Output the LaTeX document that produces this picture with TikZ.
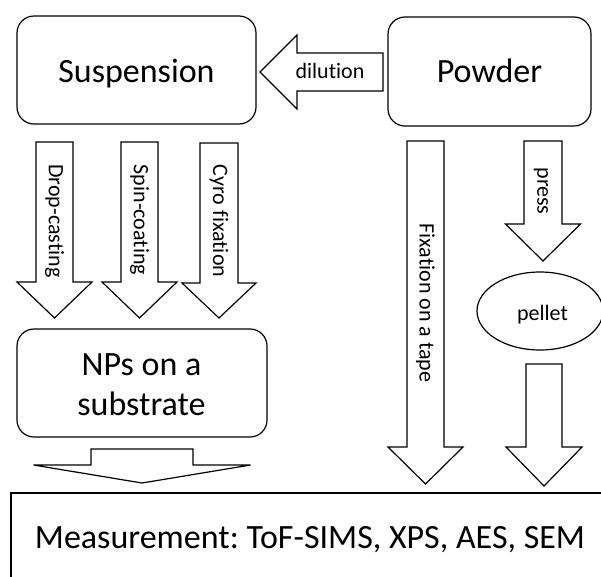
\documentclass[tikz,border=0pt]{standalone}
\usepackage{fontspec}
\setmainfont{Carlito}[Ligatures={NoCommon,NoRare,NoContextual}]
\usetikzlibrary{shapes.geometric}
\frenchspacing
\begin{document}
\begin{tikzpicture}[x=1pt,y=-1pt,
  blk/.style={draw=black,line width=1.2pt,fill=white,line join=miter},
  rbox/.style={draw=black,line width=1.2pt,rounded corners=17pt,inner sep=0pt,align=center},
  big/.style={font=\fontsize{34}{40}\selectfont},
  lbl/.style={font=\fontsize{22}{26}\selectfont,inner sep=0pt},
  vlbl/.style={lbl,rotate=-90}]
\useasboundingbox (0,0) rectangle (601,576);
\newcommand{\blkdown}[6]{%
  \draw[blk] ({#1-#2},#4) -- ({#1+#2},#4) -- ({#1+#2},#5) -- ({#1+#3},#5) -- (#1,#6) -- ({#1-#3},#5) -- ({#1-#2},#5) -- cycle;}
% boxes
\node[rbox,minimum width=239pt,minimum height=108pt] (susp) at (136.5,70) {};
\node[big,anchor=base] (susptext) at (136.5,82) {Suspension};
\node[rbox,minimum width=203pt,minimum height=109pt] (powd) at (489.5,71.5) {};
\node[big,anchor=base] (powdtext) at (489.5,82) {Powder};
\node[rbox,minimum width=250pt,minimum height=108pt] (nps) at (142,383) {};
\node[big,anchor=base] (npstext1) at (141.5,375) {NPs on a};
\node[big,anchor=base] (npstext2) at (141.5,415) {substrate};
\draw[line width=1.2pt] (11,620) -- (11,493) -- (640,493);
\node[big,anchor=base] (meas) at (310,548) {Measurement: ToF-SIMS, XPS, AES, SEM};
\node[draw=black,line width=1.2pt,ellipse,minimum width=126pt,minimum height=78pt,inner sep=0pt] (pellet) at (540,311) {};
\node[lbl,anchor=base] (pellettext) at (542.5,320) {pellet};
% dilution arrow
\draw[blk] (260,72) -- (297,35) -- (297,53) -- (383,53) -- (383,91) -- (297,91) -- (297,109) -- cycle;
\node[lbl,anchor=base] (dil) at (330,78) {dilution};
% down arrows
\blkdown{54.5}{18.5}{37.5}{142}{282}{318}
\node[vlbl] (drop) at (54.5,221) {Drop-casting};
\blkdown{139.5}{18.5}{37.5}{142}{282}{318}
\node[vlbl] (spin) at (139.5,220) {Spin-coating};
\blkdown{219}{19}{37}{143}{283}{318}
\node[vlbl] (cyro) at (219,221) {Cyro fixation};
\blkdown{425.5}{18.5}{37.5}{141}{447}{484}
\node[vlbl] (tape) at (425.5,303) {Fixation on a tape};
\blkdown{543}{19}{37.5}{141}{224}{261}
\node[vlbl] (press) at (541,191) {press};
\blkdown{544}{18}{38}{364}{447}{486}
\blkdown{142}{51}{108.5}{449}{465}{483}
\end{tikzpicture}
\end{document}
